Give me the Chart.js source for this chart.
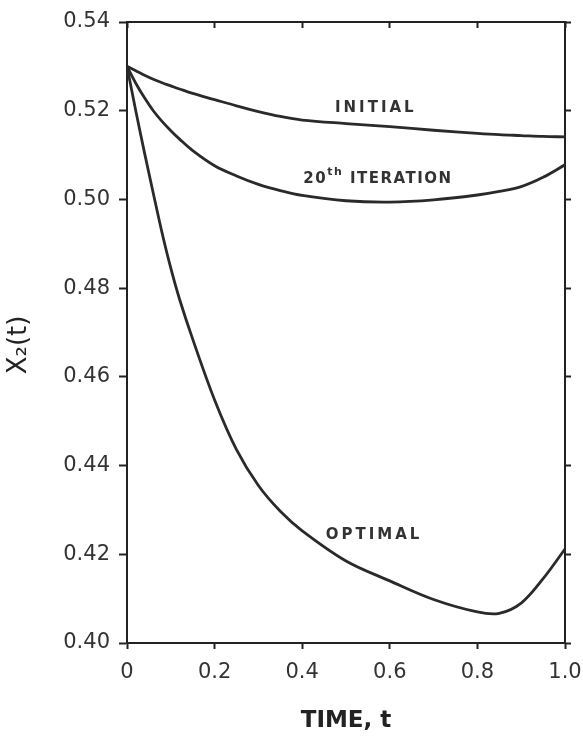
<!DOCTYPE html>
<html>
<head>
<meta charset="utf-8">
<script src="https://cdn.jsdelivr.net/npm/chart.js@4.4.1/dist/chart.umd.min.js"></script>
<style>
  body { margin: 0; background: #fff; }
</style>
</head>
<body>
<canvas id="myChart" width="583" height="741"></canvas>
<script>
// time points shared by the three curves
const tiempo = [0, 0.02, 0.04, 0.06, 0.08, 0.1, 0.12, 0.15, 0.2, 0.25, 0.3, 0.35, 0.4, 0.5, 0.6, 0.7, 0.8, 0.85, 0.9, 0.95, 1.0];

const inicial = [0.530, 0.5290, 0.5280, 0.5271, 0.5263, 0.5256, 0.5249, 0.5239, 0.5225, 0.5211, 0.5198, 0.5187, 0.5179, 0.5171, 0.5164, 0.5156, 0.5149, 0.5146, 0.5144, 0.5142, 0.5141];
const iteracion20 = [0.530, 0.5262, 0.5229, 0.5200, 0.5176, 0.5155, 0.5136, 0.5110, 0.5076, 0.5053, 0.5034, 0.5020, 0.5009, 0.4997, 0.4994, 0.4999, 0.5010, 0.5018, 0.5029, 0.5050, 0.5078];
const optimo = [0.530, 0.5200, 0.5105, 0.5014, 0.4925, 0.4845, 0.4775, 0.4685, 0.4548, 0.4436, 0.4355, 0.4297, 0.4253, 0.4185, 0.4140, 0.4098, 0.4070, 0.4067, 0.4090, 0.4145, 0.4212];

const xTicks = [0, 0.2, 0.4, 0.6, 0.8, 1.0];
const xTickLabels = ["0", "0.2", "0.4", "0.6", "0.8", "1.0"];
const yTickLabels = ["0.40", "0.42", "0.44", "0.46", "0.48", "0.50", "0.52", "0.54"];

// text next to each curve, placed at (t, x2) data values
const etiquetas = [
    { text: "INITIAL", t: 0.568, v: 0.5206, gap: 3 },
    { text: "20", sup: "th", rest: " ITERATION", t: 0.573, v: 0.5046, gap: 1.5 },
    { text: "OPTIMAL", t: 0.564, v: 0.4244, gap: 3 }
];

const toPoints = (vals) => vals.map((v, i) => ({ x: tiempo[i], y: v }));

const lineColor = "#2a2a2a";
const fontFam = "'DejaVu Sans', sans-serif";

const labelPlugin = {
    id: "curveLabels",
    afterDatasetsDraw(chart) {
        const ctx = chart.ctx;
        const xs = chart.scales.x;
        const ys = chart.scales.y;
        ctx.save();
        ctx.fillStyle = "#333";
        ctx.textBaseline = "middle";
        const big = "bold 15px " + fontFam;
        const small = "bold 11px " + fontFam;
        etiquetas.forEach((e) => {
            const cx = xs.getPixelForValue(e.t);
            const cy = ys.getPixelForValue(e.v);
            ctx.letterSpacing = e.gap + "px";
            ctx.font = big;
            if (e.sup) {
                const w1 = ctx.measureText(e.text).width;
                const w3 = ctx.measureText(e.rest).width;
                ctx.font = small;
                const w2 = ctx.measureText(e.sup).width;
                const x0 = cx - (w1 + w2 + w3) / 2;
                ctx.textAlign = "left";
                ctx.font = big;
                ctx.fillText(e.text, x0, cy);
                ctx.font = small;
                ctx.fillText(e.sup, x0 + w1, cy - 7);
                ctx.font = big;
                ctx.fillText(e.rest, x0 + w1 + w2, cy);
            } else {
                ctx.textAlign = "center";
                ctx.fillText(e.text, cx, cy);
            }
        });
        ctx.restore();
    }
};

const datasets = [
    { label: "INITIAL", data: toPoints(inicial) },
    { label: "20th ITERATION", data: toPoints(iteracion20) },
    { label: "OPTIMAL", data: toPoints(optimo) }
].map((d) => ({
    ...d,
    borderColor: lineColor,
    borderWidth: 2.8,
    pointRadius: 0,
    fill: false,
    tension: 0.35
}));

const noPad = (s) => { s.paddingLeft = 0; s.paddingRight = 0; s.paddingTop = 0; s.paddingBottom = 0; };

const config = {
    type: "line",
    data: { datasets },
    options: {
        responsive: false,
        animation: false,
        layout: { padding: { left: 0, right: 0, top: 0, bottom: 6 } },
        plugins: { legend: { display: false }, tooltip: { enabled: false } },
        scales: {
            x: {
                type: "linear",
                position: "bottom",
                min: 0,
                max: 1,
                afterBuildTicks: (s) => { s.ticks = xTicks.map((v) => ({ value: v })); },
                afterFit: (s) => { s.height = 92; noPad(s); },
                ticks: {
                    color: "#333",
                    font: { family: fontFam, size: 21 },
                    padding: 11,
                    maxRotation: 0,
                    callback: (v, i) => xTickLabels[i]
                },
                grid: { drawOnChartArea: false, tickLength: 6, tickWidth: 2, tickColor: "#222" },
                border: { display: true, color: "#222", width: 2 },
                title: {
                    display: true,
                    text: "TIME, t",
                    color: "#222",
                    font: { family: fontFam, size: 23, weight: "bold" },
                    padding: { top: 16, bottom: 0 }
                }
            },
            x2: {
                type: "linear",
                position: "top",
                min: 0,
                max: 1,
                afterBuildTicks: (s) => { s.ticks = xTicks.map((v) => ({ value: v })); },
                afterFit: (s) => { s.height = 22; noPad(s); },
                ticks: { display: false },
                grid: { drawOnChartArea: false, tickLength: -6, tickWidth: 2, tickColor: "#222" },
                border: { display: true, color: "#222", width: 2 }
            },
            y: {
                type: "linear",
                position: "left",
                min: 0.40,
                max: 0.54,
                afterBuildTicks: (s) => { s.ticks = yTickLabels.map((l) => ({ value: Number(l) })); },
                afterFit: (s) => { s.width = 127; noPad(s); },
                ticks: {
                    color: "#333",
                    font: { family: fontFam, size: 21 },
                    padding: 9,
                    callback: (v, i) => yTickLabels[i]
                },
                grid: { drawOnChartArea: false, tickLength: 8, tickWidth: 2, tickColor: "#222" },
                border: { display: true, color: "#222", width: 2 },
                title: {
                    display: true,
                    text: "X₂(t)   ",
                    color: "#222",
                    font: { family: fontFam, size: 26 },
                    padding: { top: 4, bottom: 0 }
                }
            },
            y2: {
                type: "linear",
                position: "right",
                min: 0.40,
                max: 0.54,
                afterBuildTicks: (s) => { s.ticks = yTickLabels.map((l) => ({ value: Number(l) })); },
                afterFit: (s) => { s.width = 18; noPad(s); },
                ticks: { display: false },
                grid: { drawOnChartArea: false, tickLength: 6, tickWidth: 2, tickColor: "#222" },
                border: { display: true, color: "#222", width: 2 }
            }
        }
    },
    plugins: [labelPlugin]
};

const chart = new Chart(document.querySelector("#myChart"), config);
</script>
</body>
</html>
